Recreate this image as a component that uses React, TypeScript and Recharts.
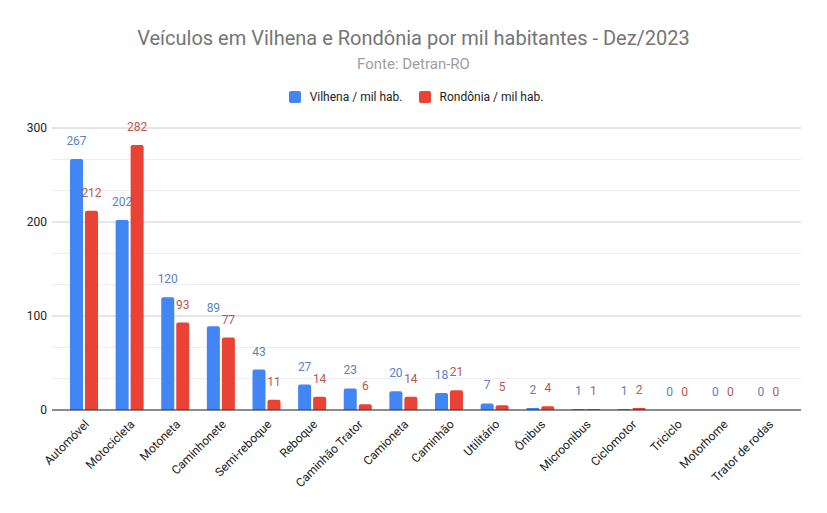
import React from "react";
import { BarChart, Bar, XAxis, YAxis, CartesianGrid, LabelList } from "recharts";

const categories = [
  "Automóvel", "Motocicleta", "Motoneta", "Caminhonete", "Semi-reboque", "Reboque",
  "Caminhão Trator", "Camioneta", "Caminhão", "Utilitário", "Ônibus", "Microonibus",
  "Ciclomotor", "Triciclo", "Motorhome", "Trator de rodas",
];
const vilhena = [267, 202, 120, 89, 43, 27, 23, 20, 18, 7, 2, 1, 1, 0, 0, 0];
const rondonia = [212, 282, 93, 77, 11, 14, 6, 14, 21, 5, 4, 1, 2, 0, 0, 0];
const yTicks = [0, 100, 200, 300];
const yMinorTicks = [33.33, 66.67, 133.33, 166.67, 233.33, 266.67];

const data = categories.map((name, i) => ({ name, vilhena: vilhena[i], rondonia: rondonia[i] }));

const FONT = "Roboto, 'Liberation Sans', Arial, sans-serif";
const BLUE = "#4285F4";
const RED = "#EA4335";

export default function App() {
  return (
    <div style={{ position: "absolute", left: 0, top: 0, width: 827, height: 513, background: "#fff", fontFamily: FONT }}>
      <div style={{ position: "absolute", left: 0, top: 25, width: 827, textAlign: "center", fontSize: 20, color: "#757575", lineHeight: "26px" }}>
        Veículos em Vilhena e Rondônia por mil habitantes - Dez/2023
      </div>
      <div style={{ position: "absolute", left: 0, top: 55, width: 827, textAlign: "center", fontSize: 15, color: "#9e9e9e", lineHeight: "19px" }}>
        Fonte: Detran-RO
      </div>
      <div style={{ position: "absolute", left: 0, top: 90, width: 832, display: "flex", justifyContent: "center", alignItems: "center", fontSize: 12, color: "#222", lineHeight: "14px" }}>
        <span style={{ display: "inline-block", width: 12, height: 12, borderRadius: 2, background: BLUE, marginRight: 9 }} />
        <span style={{ marginRight: 16 }}>Vilhena / mil hab.</span>
        <span style={{ display: "inline-block", width: 12, height: 12, borderRadius: 2, background: RED, marginRight: 9 }} />
        <span>Rondônia / mil hab.</span>
      </div>
      <div style={{ position: "absolute", left: 0, top: 0 }}>
        <BarChart
          width={827}
          height={513}
          data={data}
          margin={{ top: 128, right: 26, bottom: 13, left: 0 }}
          barSize={13}
          barGap={2}
        >
          <CartesianGrid vertical={false} stroke="#ececec" horizontalValues={yMinorTicks} />
          <CartesianGrid vertical={false} stroke="#cccccc" horizontalValues={yTicks} />
          <XAxis
            dataKey="name"
            interval={0}
            padding={{ left: 9, right: 10 }}
            height={90}
            axisLine={{ stroke: "#333", strokeWidth: 1 }}
            tickLine={false}
            tickSize={4}
            tickMargin={5}
            angle={-45}
            textAnchor="end"
            tick={{ fill: "#222", fontSize: 12, fontFamily: FONT }}
          />
          <YAxis
            domain={[0, 300]}
            ticks={yTicks}
            width={52}
            axisLine={false}
            tickLine={false}
            tickSize={0}
            tickMargin={5}
            tick={{ fill: "#222", fontSize: 12, fontFamily: FONT }}
          />
          <Bar dataKey="vilhena" fill={BLUE} radius={[2, 2, 0, 0]} minPointSize={0.01} isAnimationActive={false}>
            <LabelList dataKey="vilhena" position="top" offset={14} fill="#5b82c2" fontSize={12} fontFamily={FONT} />
          </Bar>
          <Bar dataKey="rondonia" fill={RED} radius={[2, 2, 0, 0]} minPointSize={0.01} isAnimationActive={false}>
            <LabelList dataKey="rondonia" position="top" offset={14} fill="#b9584c" fontSize={12} fontFamily={FONT} />
          </Bar>
        </BarChart>
      </div>
    </div>
  );
}
